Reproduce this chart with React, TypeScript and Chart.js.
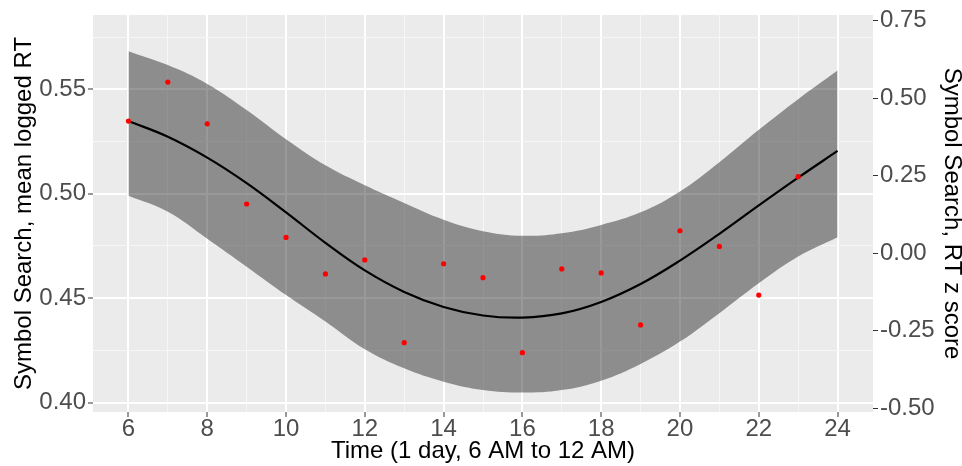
import React, { useEffect, useRef } from "react";
import { Chart, registerables } from "chart.js";

Chart.register(...registerables);

// Observed hourly means (red points)
const pointHours = [6, 7, 8, 9, 10, 11, 12, 13, 14, 15, 16, 17, 18, 19, 20, 21, 22, 23];
const meanRT = [0.5348, 0.5535, 0.5335, 0.4951, 0.4791, 0.4616, 0.4683, 0.4287, 0.4665, 0.4598, 0.4239, 0.4640, 0.4621, 0.4372, 0.4823, 0.4748, 0.4515, 0.5082];

// Smoothed fit and confidence band
const fitHours = [6, 7, 8, 9, 10, 11, 12, 13, 14, 15, 16, 17, 18, 19, 20, 21, 22, 23, 24];
const fitRT = [0.5348, 0.5273, 0.5173, 0.5051, 0.4911, 0.4765, 0.4633, 0.4530, 0.4458, 0.4417, 0.4407, 0.4427, 0.4482, 0.4568, 0.4680, 0.4808, 0.4944, 0.5077, 0.5205];
const ciUpper = [0.5683, 0.5616, 0.5526, 0.5401, 0.5261, 0.5136, 0.5041, 0.4956, 0.4876, 0.4821, 0.4799, 0.4811, 0.4851, 0.4911, 0.5011, 0.5151, 0.5306, 0.5453, 0.5590];
const ciLower = [0.4990, 0.4914, 0.4785, 0.4651, 0.4515, 0.4388, 0.4255, 0.4164, 0.4100, 0.4060, 0.4048, 0.4060, 0.4105, 0.4185, 0.4292, 0.4428, 0.4571, 0.4699, 0.4792];

// Axis ticks
const xMajorTicks = [6, 8, 10, 12, 14, 16, 18, 20, 22, 24];
const xMinorTicks = [7, 9, 11, 13, 15, 17, 19, 21, 23];
const yMajorTicks = [0.40, 0.45, 0.50, 0.55];
const yMinorTicks = [0.425, 0.475, 0.525, 0.575];
const zTicks = [-0.50, -0.25, 0.00, 0.25, 0.50, 0.75];

const FONT = "'Liberation Sans', Arial, Helvetica, sans-serif";

const isIn = (arr: number[], v: number) => arr.some((m) => Math.abs(m - v) < 1e-9);

const panelBg = {
  id: "panelBg",
  beforeDraw(chart: any) {
    const { ctx, chartArea } = chart;
    ctx.save();
    ctx.fillStyle = "#EBEBEB";
    ctx.fillRect(chartArea.left, chartArea.top, chartArea.right - chartArea.left, chartArea.bottom - chartArea.top);
    ctx.restore();
  },
};

export default function App() {
  const ref = useRef<HTMLCanvasElement>(null);

  useEffect(() => {
    const canvas = ref.current;
    if (!canvas) return;
    Chart.defaults.font.family = FONT;

    const toXY = (xs: number[], ys: number[]) => xs.map((x, i) => ({ x, y: ys[i] }));

    const chart = new Chart(canvas, {
      type: "scatter",
      data: {
        datasets: [
          {
            label: "points",
            data: toXY(pointHours, meanRT),
            showLine: false,
            pointRadius: 2.6,
            pointBackgroundColor: "#FF0000",
            pointBorderWidth: 0,
            order: 0,
          } as any,
          {
            label: "fit",
            data: toXY(fitHours, fitRT),
            showLine: true,
            borderColor: "#000000",
            borderWidth: 2.2,
            pointRadius: 0,
            tension: 0.4,
            fill: false,
            order: 1,
          },
          {
            label: "lower",
            data: toXY(fitHours, ciLower),
            showLine: true,
            borderWidth: 0,
            borderColor: "rgba(0,0,0,0)",
            pointRadius: 0,
            tension: 0.4,
            fill: false,
            order: 3,
          },
          {
            label: "upper",
            data: toXY(fitHours, ciUpper),
            showLine: true,
            borderWidth: 0,
            borderColor: "rgba(0,0,0,0)",
            backgroundColor: "rgba(0,0,0,0.4)",
            pointRadius: 0,
            tension: 0.4,
            fill: "-1",
            order: 2,
          },
        ],
      },
      options: {
        responsive: false,
        animation: false,
        devicePixelRatio: 1,
        layout: { padding: { top: 15, left: 0, right: 0, bottom: 0 } },
        plugins: { legend: { display: false }, tooltip: { enabled: false } },
        scales: {
          x: {
            type: "linear",
            position: "bottom",
            min: 5.1,
            max: 24.9,
            afterBuildTicks: (s: any) => {
              s.ticks = [...xMajorTicks, ...xMinorTicks].sort((a, b) => a - b).map((v) => ({ value: v }));
            },
            afterFit: (s: any) => {
              s.height = 54;
              s.paddingLeft = 0;
              s.paddingRight = 0;
            },
            ticks: {
              autoSkip: false,
              maxRotation: 0,
              padding: -2,
              color: "#4D4D4D",
              font: { size: 24 },
              callback: (v: any) => (isIn(xMajorTicks, Number(v)) ? String(v) : ""),
            },
            grid: {
              color: (c: any) => (isIn(xMajorTicks, c.tick?.value) ? "#FFFFFF" : "#F6F6F6"),
              lineWidth: (c: any) => (isIn(xMajorTicks, c.tick?.value) ? 2 : 1),
              tickColor: (c: any) => (isIn(xMajorTicks, c.tick?.value) ? "#333333" : "rgba(0,0,0,0)"),
              tickLength: 5,
              tickWidth: 1,
            },
            border: { display: false },
            title: {
              display: true,
              text: "Time (1 day, 6 AM to 12 AM)",
              color: "#000000",
              font: { size: 24 },
              padding: { top: 0, bottom: 0 },
            },
          },
          y: {
            type: "linear",
            position: "left",
            min: 0.3955,
            max: 0.5856,
            afterBuildTicks: (s: any) => {
              s.ticks = [...yMajorTicks, ...yMinorTicks].sort((a, b) => a - b).map((v) => ({ value: v }));
            },
            afterFit: (s: any) => {
              s.width = 93;
              s.paddingTop = 0;
              s.paddingBottom = 0;
            },
            ticks: {
              autoSkip: false,
              padding: 2,
              color: "#4D4D4D",
              font: { size: 24 },
              callback: (v: any) => (isIn(yMajorTicks, Number(v)) ? Number(v).toFixed(2) : ""),
            },
            grid: {
              color: (c: any) => (isIn(yMajorTicks, c.tick?.value) ? "#FFFFFF" : "#F6F6F6"),
              lineWidth: (c: any) => (isIn(yMajorTicks, c.tick?.value) ? 2 : 1),
              tickColor: (c: any) => (isIn(yMajorTicks, c.tick?.value) ? "#333333" : "rgba(0,0,0,0)"),
              tickLength: 5,
              tickWidth: 1,
            },
            border: { display: false },
            title: {
              display: true,
              text: "Symbol Search, mean logged RT",
              color: "#000000",
              font: { size: 24 },
              padding: { top: 10, bottom: 0 },
            },
          },
          y2: {
            type: "linear",
            position: "right",
            min: -0.512,
            max: 0.768,
            afterBuildTicks: (s: any) => {
              s.ticks = zTicks.map((v) => ({ value: v }));
            },
            afterFit: (s: any) => {
              s.width = 89;
              s.paddingTop = 0;
              s.paddingBottom = 0;
            },
            ticks: {
              autoSkip: false,
              padding: 2,
              color: "#4D4D4D",
              font: { size: 24 },
              callback: (v: any) => Number(v).toFixed(2),
            },
            grid: {
              drawOnChartArea: false,
              tickColor: "#333333",
              tickLength: 5,
              tickWidth: 1,
            },
            border: { display: false },
            title: {
              display: true,
              text: "Symbol Search, RT z score",
              color: "#000000",
              font: { size: 24 },
              padding: { top: -4, bottom: 0 },
            },
          },
        },
      } as any,
      plugins: [panelBg],
    });

    return () => chart.destroy();
  }, []);

  return (
    <div style={{ position: "fixed", left: 0, top: 0, width: 962, height: 466, background: "#FFFFFF" }}>
      <canvas ref={ref} width={962} height={466} style={{ display: "block", width: 962, height: 466 }} />
    </div>
  );
}
